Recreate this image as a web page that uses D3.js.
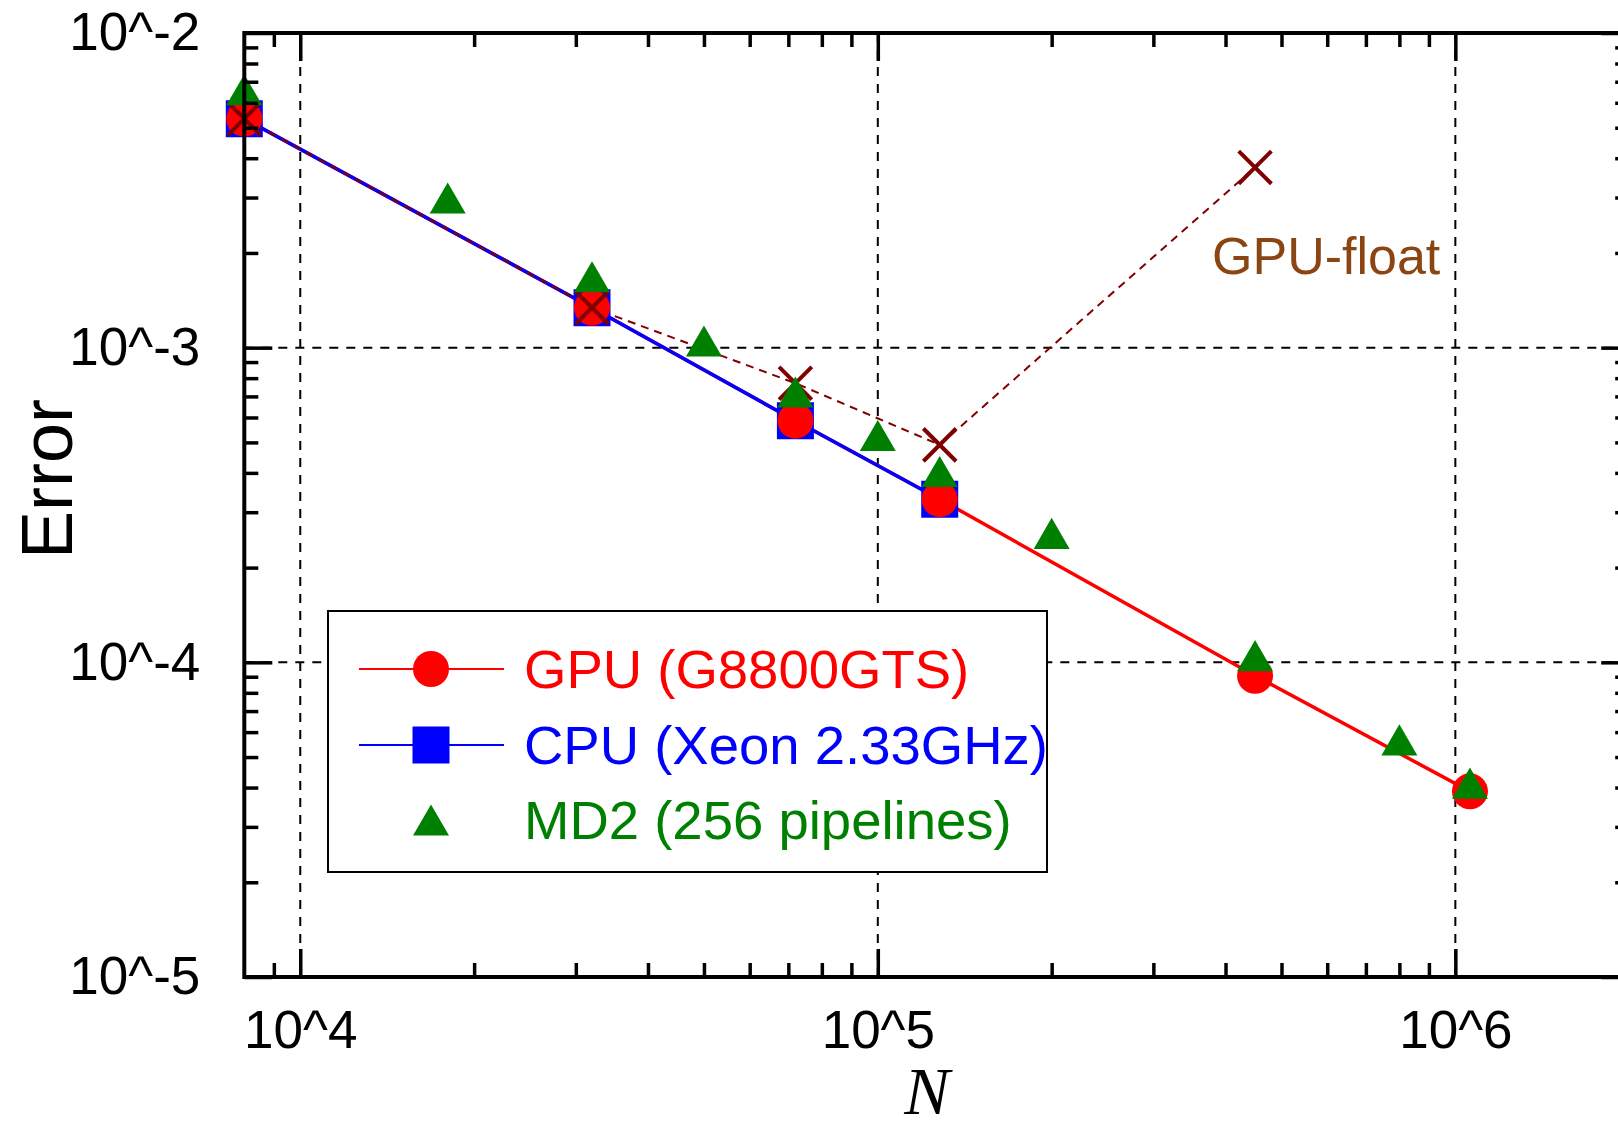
<!DOCTYPE html>
<html>
<head>
<meta charset="utf-8">
<script src="https://cdn.jsdelivr.net/npm/d3@7"></script>
<style>
  body { margin: 0; background: #fff; }
  svg { display: block; }
  text { font-family: "Liberation Sans", Arial, sans-serif; }
</style>
</head>
<body>
<svg id="chart" width="1618" height="1129"></svg>
<script>
// ---- data ----
const gpuN   = [8000, 32000, 72000, 128000, 450000, 1060000];
const gpuErr = [5.34e-3, 1.34e-3, 5.86e-4, 3.30e-4, 9.06e-5, 3.89e-5];

const cpuN   = [8000, 32000, 72000, 128000];
const cpuErr = [5.34e-3, 1.34e-3, 5.86e-4, 3.30e-4];

const md2N   = [8000, 18000, 32000, 50000, 72000, 100000, 128000, 200000, 450000, 800000, 1060000];
const md2Err = [6.6e-3, 2.99e-3, 1.68e-3, 1.05e-3, 7.23e-4, 5.26e-4, 4.04e-4, 2.57e-4, 1.05e-4, 5.67e-5, 4.13e-5];

const floatN   = [8000, 32000, 72000, 128000, 450000];
const floatErr = [5.34e-3, 1.34e-3, 7.71e-4, 4.91e-4, 3.74e-3];

const xMajor = [1e4, 1e5, 1e6];
const yMajor = [1e-2, 1e-3, 1e-4, 1e-5];
const legendLabels = ["GPU (G8800GTS)", "CPU (Xeon 2.33GHz)", "MD2 (256 pipelines)"];

const svg = d3.select("#chart");

// scales (log-log)
const x = d3.scaleLog().domain([8000, 2e6]).range([244.3, 1629.2]);
const y = d3.scaleLog().domain([1e-2, 1e-5]).range([33, 977]);

const [x0, x1] = x.range();
const [y0, y1] = y.range();

// minor tick values
const xMinor = [9000];
[1e4, 1e5].forEach(d => { for (let k = 2; k <= 9; k++) xMinor.push(k * d); });
const yMinor = [];
[1e-5, 1e-4, 1e-3].forEach(d => { for (let k = 2; k <= 9; k++) yMinor.push(k * d); });

const fmt = d => "10^" + Math.round(Math.log10(d));

// grid lines
const grid = svg.append("g")
    .attr("stroke", "#000")
    .attr("stroke-width", 2)
    .attr("stroke-dasharray", "9,8");
grid.selectAll(".gx").data(xMajor).join("line")
    .attr("x1", d => x(d)).attr("x2", d => x(d))
    .attr("y1", y0).attr("y2", y1);
grid.selectAll(".gy").data([1e-3, 1e-4]).join("line")
    .attr("x1", x0).attr("x2", x1)
    .attr("y1", d => y(d)).attr("y2", d => y(d));

// legend box (white, hides the grid behind it)
const legend = svg.append("g");
legend.append("rect")
    .attr("x", 328).attr("y", 611)
    .attr("width", 719).attr("height", 261)
    .attr("fill", "#fff")
    .attr("stroke", "#000")
    .attr("stroke-width", 2);

// lines
const line = d3.line().x(d => x(d[0])).y(d => y(d[1]));

svg.append("path")
    .datum(d3.zip(gpuN, gpuErr))
    .attr("d", line)
    .attr("fill", "none")
    .attr("stroke", "#ff0000")
    .attr("stroke-width", 3.5);

svg.append("path")
    .datum(d3.zip(cpuN, cpuErr))
    .attr("d", line)
    .attr("fill", "none")
    .attr("stroke", "#0000ff")
    .attr("stroke-width", 3.5);

svg.append("path")
    .datum(d3.zip(floatN, floatErr))
    .attr("d", line)
    .attr("fill", "none")
    .attr("stroke", "#800000")
    .attr("stroke-width", 2)
    .attr("stroke-dasharray", "8,6");

// markers
const square = d3.symbol(d3.symbolSquare, 1369);
const circle = d3.symbol(d3.symbolCircle, 1018);
const tri = d3.symbol(d3.symbolTriangle, 561);
const cross = d3.symbol(d3.symbolTimes, 700);

svg.append("g").selectAll("path")
    .data(d3.zip(cpuN, cpuErr))
    .join("path")
    .attr("d", square)
    .attr("transform", d => `translate(${x(d[0])},${y(d[1])})`)
    .attr("fill", "#0000ff");

svg.append("g").selectAll("path")
    .data(d3.zip(gpuN, gpuErr))
    .join("path")
    .attr("d", circle)
    .attr("transform", d => `translate(${x(d[0])},${y(d[1])})`)
    .attr("fill", "#ff0000");

svg.append("g").selectAll("path")
    .data(d3.zip(floatN, floatErr))
    .join("path")
    .attr("d", cross)
    .attr("transform", d => `translate(${x(d[0])},${y(d[1])})`)
    .attr("fill", "none")
    .attr("stroke", "#800000")
    .attr("stroke-width", 4);

// triangle centred on its bounding box, as in the original
svg.append("g").selectAll("path")
    .data(d3.zip(md2N, md2Err))
    .join("path")
    .attr("d", tri)
    .attr("transform", d => `translate(${x(d[0])},${y(d[1]) + 5.2})`)
    .attr("fill", "#008000");

// GPU-float annotation
svg.append("text")
    .attr("x", 1212).attr("y", 274)
    .attr("font-size", 52)
    .attr("fill", "#8b4513")
    .text("GPU-float");

// legend entries
const rows = [669, 745, 820];
const legColors = ["#ff0000", "#0000ff", "#008000"];
const legSyms = [circle, square, tri];

legend.selectAll(".lline").data([0, 1]).join("line")
    .attr("x1", 359).attr("x2", 504)
    .attr("y1", i => rows[i]).attr("y2", i => rows[i])
    .attr("stroke", i => legColors[i])
    .attr("stroke-width", 2);

legend.selectAll(".lsym").data([0, 1, 2]).join("path")
    .attr("d", i => legSyms[i]())
    .attr("transform", i => `translate(431,${rows[i] + (i == 2 ? 5.2 : 0)})`)
    .attr("fill", i => legColors[i]);

legend.selectAll(".ltext").data(legendLabels).join("text")
    .attr("x", 524)
    .attr("y", (d, i) => rows[i] + 19)
    .attr("font-size", 54.5)
    .attr("fill", (d, i) => legColors[i])
    .text(d => d);

// axes: ticks point inward
function axisGroup(axis, tx, ty) {
    const g = svg.append("g")
        .attr("transform", `translate(${tx},${ty})`)
        .call(axis);
    g.select(".domain").remove();
    g.selectAll(".tick line").attr("stroke-width", 3.5);
    g.selectAll("text")
        .attr("font-size", 53)
        .attr("fill", "#000");
    return g;
}

// bottom
axisGroup(d3.axisBottom(x).tickValues(xMajor).tickFormat(fmt).tickSize(-28).tickPadding(33), 0, y1);
axisGroup(d3.axisBottom(x).tickValues(xMinor).tickFormat("").tickSize(-14), 0, y1);
// top
axisGroup(d3.axisTop(x).tickValues(xMajor).tickFormat("").tickSize(-28), 0, y0);
axisGroup(d3.axisTop(x).tickValues(xMinor).tickFormat("").tickSize(-14), 0, y0);
// left
axisGroup(d3.axisLeft(y).tickValues(yMajor).tickFormat(fmt).tickSize(-28).tickPadding(44), x0, 0);
axisGroup(d3.axisLeft(y).tickValues(yMinor).tickFormat("").tickSize(-14), x0, 0);
// right
axisGroup(d3.axisRight(y).tickValues(yMajor).tickFormat("").tickSize(-28), x1, 0);
axisGroup(d3.axisRight(y).tickValues(yMinor).tickFormat("").tickSize(-14), x1, 0);

// frame
svg.append("rect")
    .attr("x", x0).attr("y", y0)
    .attr("width", x1 - x0).attr("height", y1 - y0)
    .attr("fill", "none")
    .attr("stroke", "#000")
    .attr("stroke-width", 4);

// axis titles
svg.append("text")
    .attr("transform", "translate(72,479) rotate(-90)")
    .attr("text-anchor", "middle")
    .attr("font-size", 72)
    .text("Error");

// serif italic N (style() so it beats the css rule above)
svg.append("text")
    .attr("x", 927).attr("y", 1114)
    .attr("text-anchor", "middle")
    .style("font-family", "'Liberation Serif', 'Times New Roman', serif")
    .style("font-style", "italic")
    .attr("font-size", 68)
    .text("N");
</script>
</body>
</html>
